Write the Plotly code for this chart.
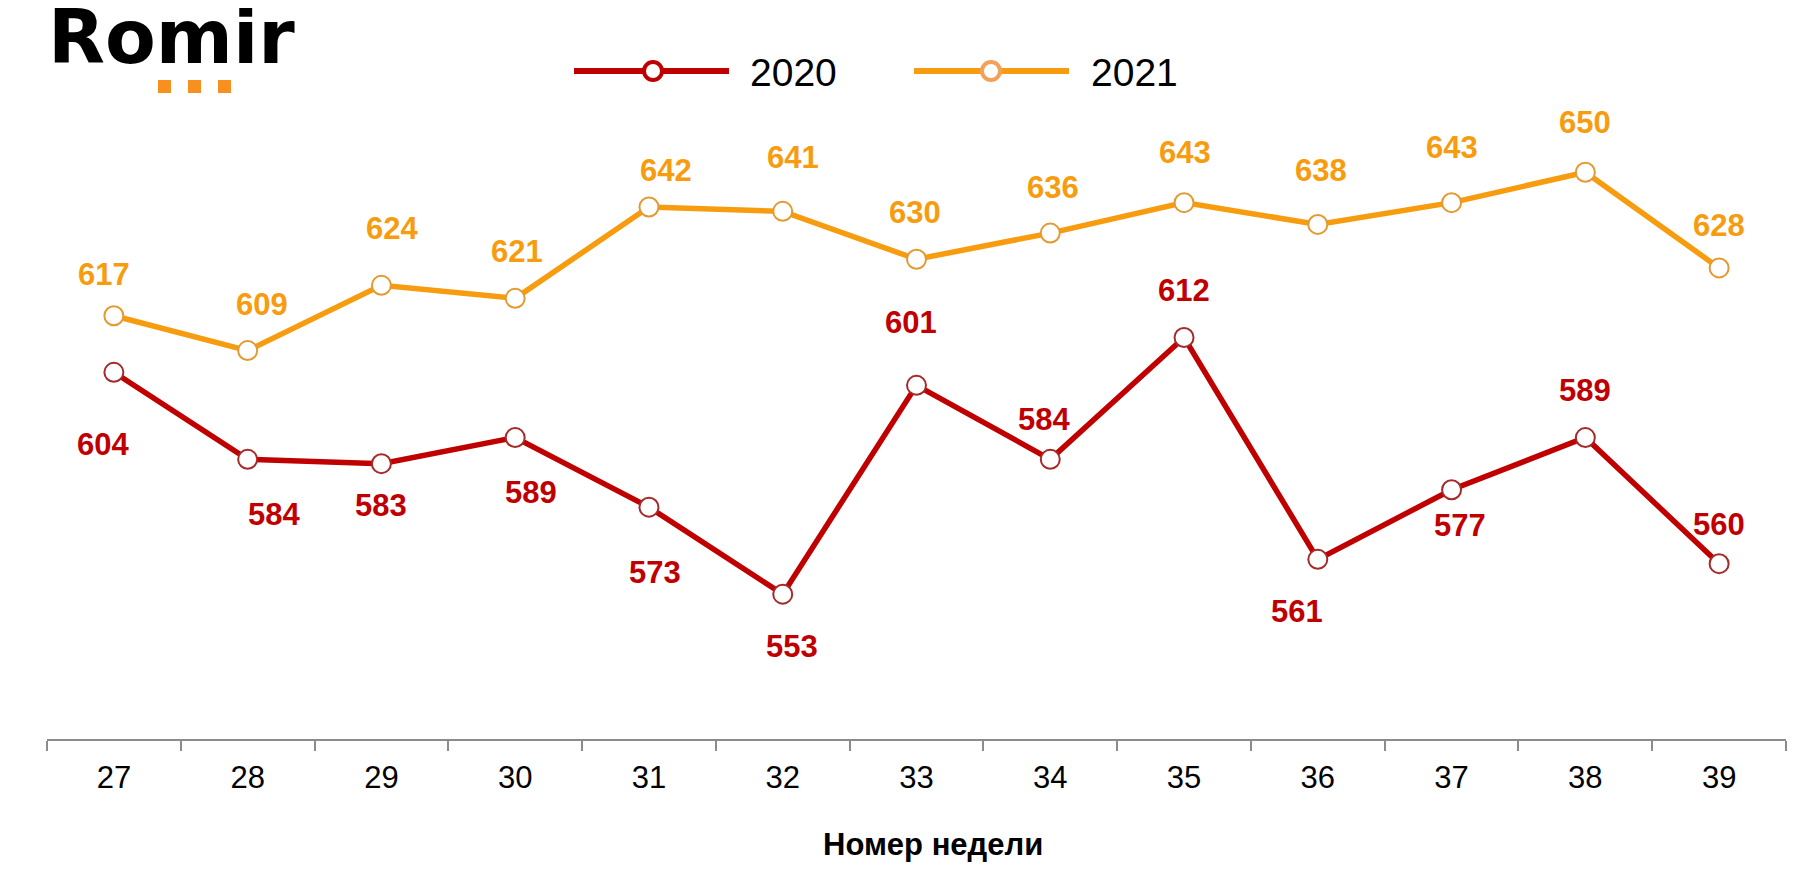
import plotly.graph_objects as go

weeks = ["27", "28", "29", "30", "31", "32", "33", "34", "35", "36", "37", "38", "39"]
values_2020 = [604, 584, 583, 589, 573, 553, 601, 584, 612, 561, 577, 589, 560]
values_2021 = [617, 609, 624, 621, 642, 641, 630, 636, 643, 638, 643, 650, 628]
series_names = ["2020", "2021"]
x_title = "Номер недели"
logo_text = "Romir"

# label offsets (pixels) for data labels
off_2020 = [(-11, 72), (26, 55), (0, 42), (16, 55), (6, 65), (9, 52), (-6, -63),
            (-6, -40), (0, -47), (-21, 52), (8, 36), (0, -47), (0, -39)]
off_2021 = [(-10, -41), (14, -46), (11, -57), (2, -47), (17, -37), (10, -54), (-2, -47),
            (3, -46), (1, -50), (3, -54), (0, -55), (0, -50), (0, -42)]

W, H = 1800, 880
L, R, T, B = 39, 22, 92, 149
PW, PH = W - L - R, H - T - B


def px(p):
    return (p - L) / PW


def py(p):
    return (H - B - p) / PH


RED = "#C00000"
RED_EDGE = "#A52A2A"
ORANGE = "#F79C0E"
ORANGE_EDGE = "#E39A30"
FONT = "Liberation Sans, Arial, sans-serif"

fig = go.Figure()
for name, vals, col, edge in [(series_names[0], values_2020, RED, RED_EDGE),
                              (series_names[1], values_2021, ORANGE, ORANGE_EDGE)]:
    fig.add_trace(go.Scatter(
        x=weeks, y=vals, mode="lines+markers", name=name,
        line=dict(color=col, width=5.5),
        marker=dict(size=19, color="white", line=dict(color=edge, width=2)),
        cliponaxis=False, showlegend=False,
    ))

annotations = []
for vals, offs, col in [(values_2020, off_2020, RED), (values_2021, off_2021, ORANGE)]:
    for i, (v, (dx, dy)) in enumerate(zip(vals, offs)):
        annotations.append(dict(
            x=i, y=v, xref="x", yref="y", text=f"<b>{v}</b>", showarrow=False,
            xshift=dx, yshift=-dy, font=dict(family=FONT, size=31, color=col),
        ))

# x-axis title
annotations.append(dict(
    x=px(925), y=py(836), xref="paper", yref="paper", text=f"<b>{x_title}</b>",
    showarrow=False, xanchor="center", yanchor="middle",
    font=dict(family=FONT, size=31, color="black"),
))

# logo
annotations.append(dict(
    x=px(38), y=py(0), xref="paper", yref="paper", text=f"<b>{logo_text}</b>",
    showarrow=False, xanchor="left", yanchor="top", yshift=16,
    font=dict(family="DejaVu Sans, sans-serif", size=74, color="black"),
))

shapes = []
for x0 in (150, 180, 210):
    shapes.append(dict(type="rect", xref="paper", yref="paper",
                       x0=px(x0), x1=px(x0 + 13), y0=py(85), y1=py(72),
                       fillcolor="#F7901E", line=dict(width=0)))

# custom legend
legend_items = [(series_names[0], RED, RED, 566, 721, 645, 740),
                (series_names[1], ORANGE, "#F3A05A", 906, 1061, 983, 1081)]
for name, col, mcol, lx0, lx1, mx, tx in legend_items:
    shapes.append(dict(type="line", xref="paper", yref="paper",
                       x0=px(lx0), x1=px(lx1), y0=py(63), y1=py(63),
                       line=dict(color=col, width=6)))
    shapes.append(dict(type="circle", xref="paper", yref="paper",
                       x0=px(mx - 9), x1=px(mx + 9), y0=py(72), y1=py(54),
                       fillcolor="white", line=dict(color=mcol, width=4)))
    annotations.append(dict(
        x=px(tx), y=py(64), xref="paper", yref="paper", text=name, showarrow=False,
        xanchor="left", yanchor="middle", font=dict(family=FONT, size=39, color="black"),
    ))

fig.update_layout(
    width=W, height=H,
    margin=dict(l=L, r=R, t=T, b=B),
    paper_bgcolor="white", plot_bgcolor="white",
    annotations=annotations, shapes=shapes,
    showlegend=False,
    xaxis=dict(
        type="category", range=[-0.5, len(weeks) - 0.5],
        showline=True, linecolor="#8C8C8C", linewidth=2,
        ticks="outside", tickson="boundaries", ticklen=10, tickwidth=2, tickcolor="#8C8C8C",
        showgrid=False, zeroline=False,
        tickfont=dict(family=FONT, size=31, color="black"),
        ticklabelstandoff=10,
    ),
    yaxis=dict(
        range=[519.7, 666.6], visible=False, showgrid=False, zeroline=False,
    ),
)

fig.write_html("out.html")
